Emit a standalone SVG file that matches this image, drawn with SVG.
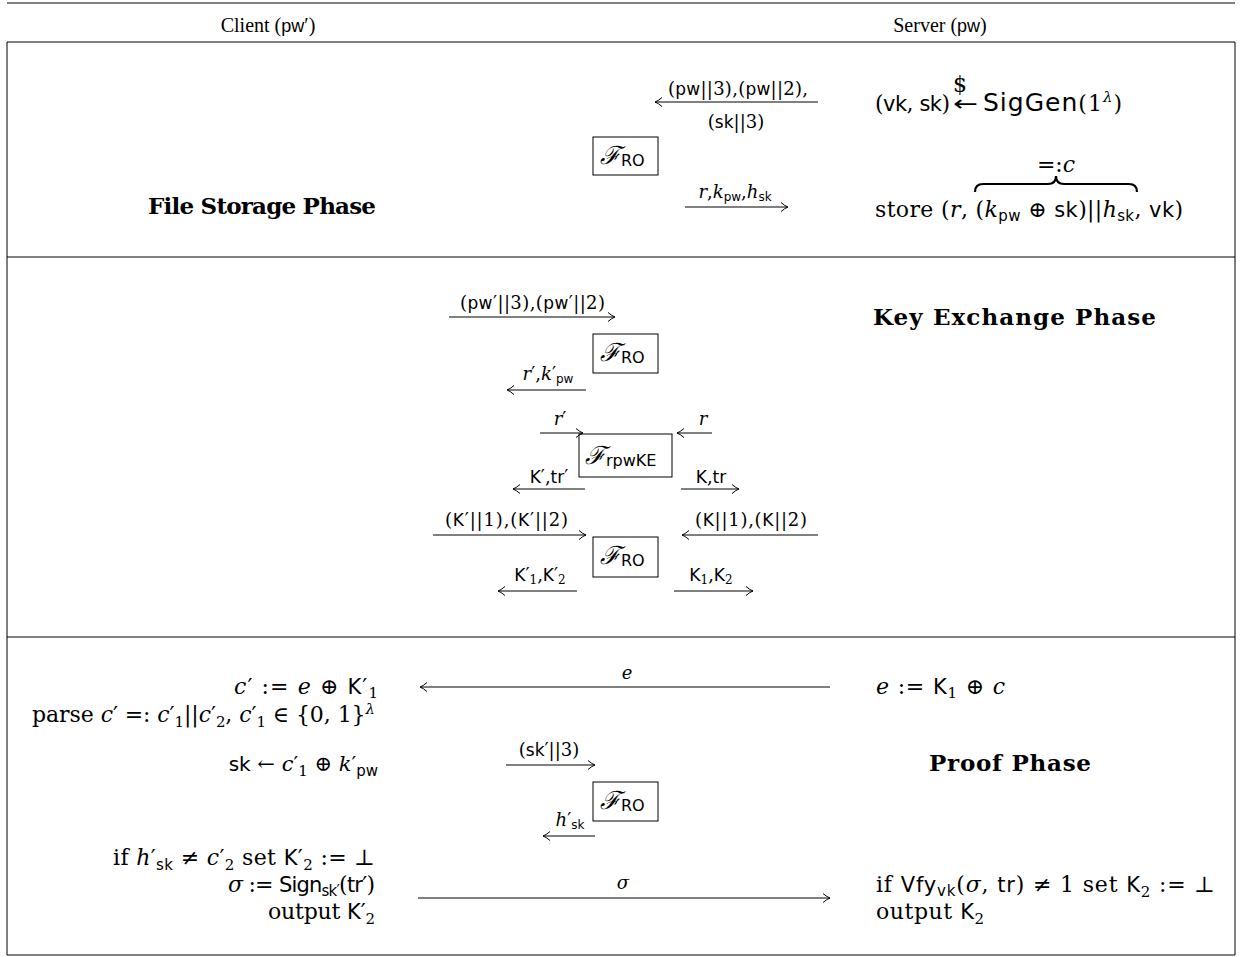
<svg xmlns="http://www.w3.org/2000/svg" width="1242" height="957" viewBox="0 0 1242 957">
<style>
text{font-family:"DejaVu Serif","Liberation Serif",serif;font-size:22px;fill:#000}
.hd{font-family:"Liberation Serif","DejaVu Serif",serif;font-size:20px;text-anchor:middle}
.hs{font-family:"Liberation Sans","DejaVu Sans",sans-serif;font-size:18px}
.sf{font-family:"DejaVu Sans","Liberation Sans",sans-serif;font-size:21px}
.lb .sf{font-size:17px}
.ar{font-family:"DejaVu Sans",sans-serif}
.i{font-style:italic}
.b{font-weight:bold;font-size:23px}
.lb{font-size:18px}
.s{font-size:15px}
.lb .s{font-size:12px}
.cal{font-family:"DejaVu Serif",serif;font-style:italic;font-size:25px}
.ro{font-family:"DejaVu Sans","Liberation Sans",sans-serif;font-size:16px}
.mid{text-anchor:middle}
.rule{stroke:#000;stroke-width:1}
.box{fill:#fff;stroke:#000;stroke-width:1}
.arr{stroke:#000;stroke-width:1;fill:none;marker-end:url(#ah)}
</style>
<defs>
<marker id="ah" markerUnits="userSpaceOnUse" markerWidth="14" markerHeight="14" viewBox="-12 -7 14 14" refX="0" refY="0" orient="auto">
<path d="M-7,-4.5 Q-3,-1 0,0 Q-3,1 -7,4.5" fill="none" stroke="#000" stroke-width="1"/>
</marker>
</defs>
<rect width="1242" height="957" fill="#fff"/>
<g id="frame">
<line class="rule" x1="7" y1="3" x2="1235" y2="3" stroke-width="1.5"/>
<line class="rule" x1="7" y1="42" x2="1235" y2="42" stroke-width="1.2"/>
<line class="rule" x1="7" y1="42" x2="7" y2="955"/>
<line class="rule" x1="1235" y1="42" x2="1235" y2="955"/>
<line class="rule" x1="7" y1="257" x2="1235" y2="257"/>
<line class="rule" x1="7" y1="637" x2="1235" y2="637"/>
<line class="rule" x1="7" y1="955" x2="1235" y2="955"/>
</g>
<g id="header">
<text class="hd" x="268" y="32">Client (<tspan class="hs">pw</tspan>′)</text>
<text class="hd" x="940" y="32">Server (<tspan class="hs">pw</tspan>)</text>
</g>
<g id="file-storage">
<text class="b" x="148" y="214" textLength="228">File Storage Phase</text>
<text x="875" y="111" textLength="75">(<tspan class="sf">vk</tspan>, <tspan class="sf">sk</tspan>)</text>
<text class="ar" x="953" y="111" font-size="21" textLength="25" lengthAdjust="spacingAndGlyphs">←</text>
<text class="mid" x="960" y="92" font-size="9">$</text>
<text x="983" y="111" textLength="139"><tspan class="sf" style="font-size:25px">SigGen</tspan>(1<tspan class="s i" dy="-9">λ</tspan><tspan dy="9">)</tspan></text>
<text x="875" y="217" textLength="308">store (<tspan class="i">r</tspan>, (<tspan class="i">k</tspan><tspan class="s sf" dy="4">pw</tspan><tspan dy="-4"> ⊕ </tspan><tspan class="sf">sk</tspan>)||<tspan class="i">h</tspan><tspan class="s sf" dy="4">sk</tspan><tspan dy="-4">, </tspan><tspan class="sf">vk</tspan>)</text>
<path d="M975,192 Q975,184 983,184 L1048,184 Q1056,184 1056,176 Q1056,184 1064,184 L1129,184 Q1137,184 1137,192" fill="none" stroke="#000" stroke-width="2.2"/>
<text class="mid" x="1056" y="172" font-size="13">=:<tspan class="i">c</tspan></text>
</g>
<g id="ro1">
<rect class="box" x="593" y="137" width="65" height="38"/>
<text x="600" y="164"><tspan class="cal">ℱ</tspan><tspan class="ro" dy="2">RO</tspan></text>
</g>
<g id="key-exchange">
<text class="b" x="873" y="325" textLength="283">Key Exchange Phase</text>
</g>
<g id="ro2">
<rect class="box" x="593" y="334" width="65" height="39"/>
<text x="600" y="361"><tspan class="cal">ℱ</tspan><tspan class="ro" dy="2">RO</tspan></text>
</g>
<g id="rpwke">
<rect class="box" x="579" y="434" width="93" height="43"/>
<text x="585" y="464"><tspan class="cal">ℱ</tspan><tspan class="ro" dy="2">rpwKE</tspan></text>
</g>
<g id="ro3">
<rect class="box" x="593" y="537" width="65" height="40"/>
<text x="600" y="564"><tspan class="cal">ℱ</tspan><tspan class="ro" dy="2">RO</tspan></text>
</g>
<g id="proof">
<text class="b" x="929" y="771" textLength="162">Proof Phase</text>
<text x="234" y="694" textLength="144"><tspan class="i">c</tspan>′ := <tspan class="i">e</tspan> ⊕ <tspan class="sf">K</tspan>′<tspan class="s" dy="4">1</tspan></text>
<text x="32" y="722" textLength="343">parse <tspan class="i">c</tspan>′ =: <tspan class="i">c</tspan>′<tspan class="s" dy="5">1</tspan><tspan dy="-5">||</tspan><tspan class="i">c</tspan>′<tspan class="s" dy="5">2</tspan><tspan dy="-5">, </tspan><tspan class="i">c</tspan>′<tspan class="s" dy="5">1</tspan><tspan dy="-5"> ∈ {0, 1}</tspan><tspan class="s i" dy="-8">λ</tspan></text>
<text x="378" y="771" text-anchor="end" style="font-size:21px"><tspan class="sf" style="font-size:20px">sk</tspan> ← <tspan class="i">c</tspan>′<tspan class="s" dy="5">1</tspan><tspan dy="-5"> ⊕ </tspan><tspan class="i">k</tspan>′<tspan class="s sf" dy="5">pw</tspan></text>
<text x="113" y="865" textLength="262">if <tspan class="i">h</tspan>′<tspan class="s sf" dy="5">sk</tspan><tspan dy="-5"> ≠ </tspan><tspan class="i">c</tspan>′<tspan class="s" dy="5">2</tspan><tspan dy="-5"> set </tspan><tspan class="sf">K</tspan>′<tspan class="s" dy="5">2</tspan><tspan dy="-5"> := ⊥</tspan></text>
<text x="228" y="892" textLength="147"><tspan class="i">σ</tspan> := <tspan class="sf">Sign</tspan><tspan class="s sf" dy="4">sk′</tspan><tspan dy="-4">(</tspan><tspan class="sf">tr</tspan>′)</text>
<text x="268" y="919" textLength="107">output <tspan class="sf">K</tspan>′<tspan class="s" dy="5">2</tspan></text>
<text x="876" y="694" textLength="129"><tspan class="i">e</tspan> := <tspan class="sf">K</tspan><tspan class="s" dy="4">1</tspan><tspan dy="-4"> ⊕ </tspan><tspan class="i">c</tspan></text>
<text x="876" y="892" textLength="339">if <tspan class="sf">Vfy</tspan><tspan class="s sf" dy="4">vk</tspan><tspan dy="-4">(</tspan><tspan class="i">σ</tspan>, <tspan class="sf">tr</tspan>) ≠ 1 set <tspan class="sf">K</tspan><tspan class="s" dy="5">2</tspan><tspan dy="-5"> := ⊥</tspan></text>
<text x="876" y="919" textLength="108">output <tspan class="sf">K</tspan><tspan class="s" dy="5">2</tspan></text>
</g>
<g id="ro4">
<rect class="box" x="593" y="782" width="65" height="39"/>
<text x="600" y="809"><tspan class="cal">ℱ</tspan><tspan class="ro" dy="2">RO</tspan></text>
</g>
<g id="connectors">
<line class="arr" x1="818" y1="102" x2="655" y2="102"/>
<text class="lb" x="668" y="95" textLength="140">(<tspan class="sf">pw</tspan>||3),(<tspan class="sf">pw</tspan>||2),</text>
<text class="lb mid" x="736" y="128">(<tspan class="sf">sk</tspan>||3)</text>
<line class="arr" x1="685" y1="207" x2="788" y2="207"/>
<text class="lb mid" x="735" y="198"><tspan class="i">r</tspan>,<tspan class="i">k</tspan><tspan class="s sf" dy="3">pw</tspan><tspan dy="-3">,</tspan><tspan class="i">h</tspan><tspan class="s sf" dy="3">sk</tspan></text>
<line class="arr" x1="449" y1="317" x2="615" y2="317"/>
<text class="lb" x="460" y="309" textLength="145">(<tspan class="sf">pw</tspan>′||3),(<tspan class="sf">pw</tspan>′||2)</text>
<line class="arr" x1="586" y1="390" x2="507" y2="390"/>
<text class="lb mid" x="548" y="380"><tspan class="i">r</tspan>′,<tspan class="i">k</tspan>′<tspan class="s sf" dy="3">pw</tspan></text>
<line class="arr" x1="540" y1="433" x2="583" y2="433"/>
<text class="lb mid" x="560" y="425"><tspan class="i">r</tspan>′</text>
<line class="arr" x1="712" y1="433" x2="677" y2="433"/>
<text class="lb mid" x="703" y="425"><tspan class="i">r</tspan></text>
<line class="arr" x1="585" y1="489" x2="513" y2="489"/>
<text class="lb mid" x="549" y="483"><tspan class="sf">K</tspan>′,<tspan class="sf">tr</tspan>′</text>
<line class="arr" x1="681" y1="489" x2="739" y2="489"/>
<text class="lb mid" x="711" y="483"><tspan class="sf">K</tspan>,<tspan class="sf">tr</tspan></text>
<line class="arr" x1="433" y1="535" x2="586" y2="535"/>
<text class="lb" x="445" y="526" textLength="123">(<tspan class="sf">K</tspan>′||1),(<tspan class="sf">K</tspan>′||2)</text>
<line class="arr" x1="818" y1="535" x2="682" y2="535"/>
<text class="lb" x="695" y="526" textLength="112">(<tspan class="sf">K</tspan>||1),(<tspan class="sf">K</tspan>||2)</text>
<line class="arr" x1="577" y1="591" x2="498" y2="591"/>
<text class="lb mid" x="540" y="581"><tspan class="sf">K</tspan>′<tspan class="s" dy="3">1</tspan><tspan dy="-3">,</tspan><tspan class="sf">K</tspan>′<tspan class="s" dy="3">2</tspan></text>
<line class="arr" x1="674" y1="591" x2="753" y2="591"/>
<text class="lb mid" x="711" y="581"><tspan class="sf">K</tspan><tspan class="s" dy="3">1</tspan><tspan dy="-3">,</tspan><tspan class="sf">K</tspan><tspan class="s" dy="3">2</tspan></text>
<line class="arr" x1="830" y1="687" x2="420" y2="687"/>
<text class="lb i mid" x="627" y="679" font-size="20">e</text>
<line class="arr" x1="506" y1="765" x2="595" y2="765"/>
<text class="lb mid" x="549" y="756">(<tspan class="sf">sk</tspan>′||3)</text>
<line class="arr" x1="595" y1="836" x2="543" y2="836"/>
<text class="lb mid" x="570" y="826"><tspan class="i">h</tspan>′<tspan class="s sf" dy="3">sk</tspan></text>
<line class="arr" x1="418" y1="898" x2="830" y2="898"/>
<text class="lb i mid" x="623" y="889" font-size="20">σ</text>
</g>
</svg>
